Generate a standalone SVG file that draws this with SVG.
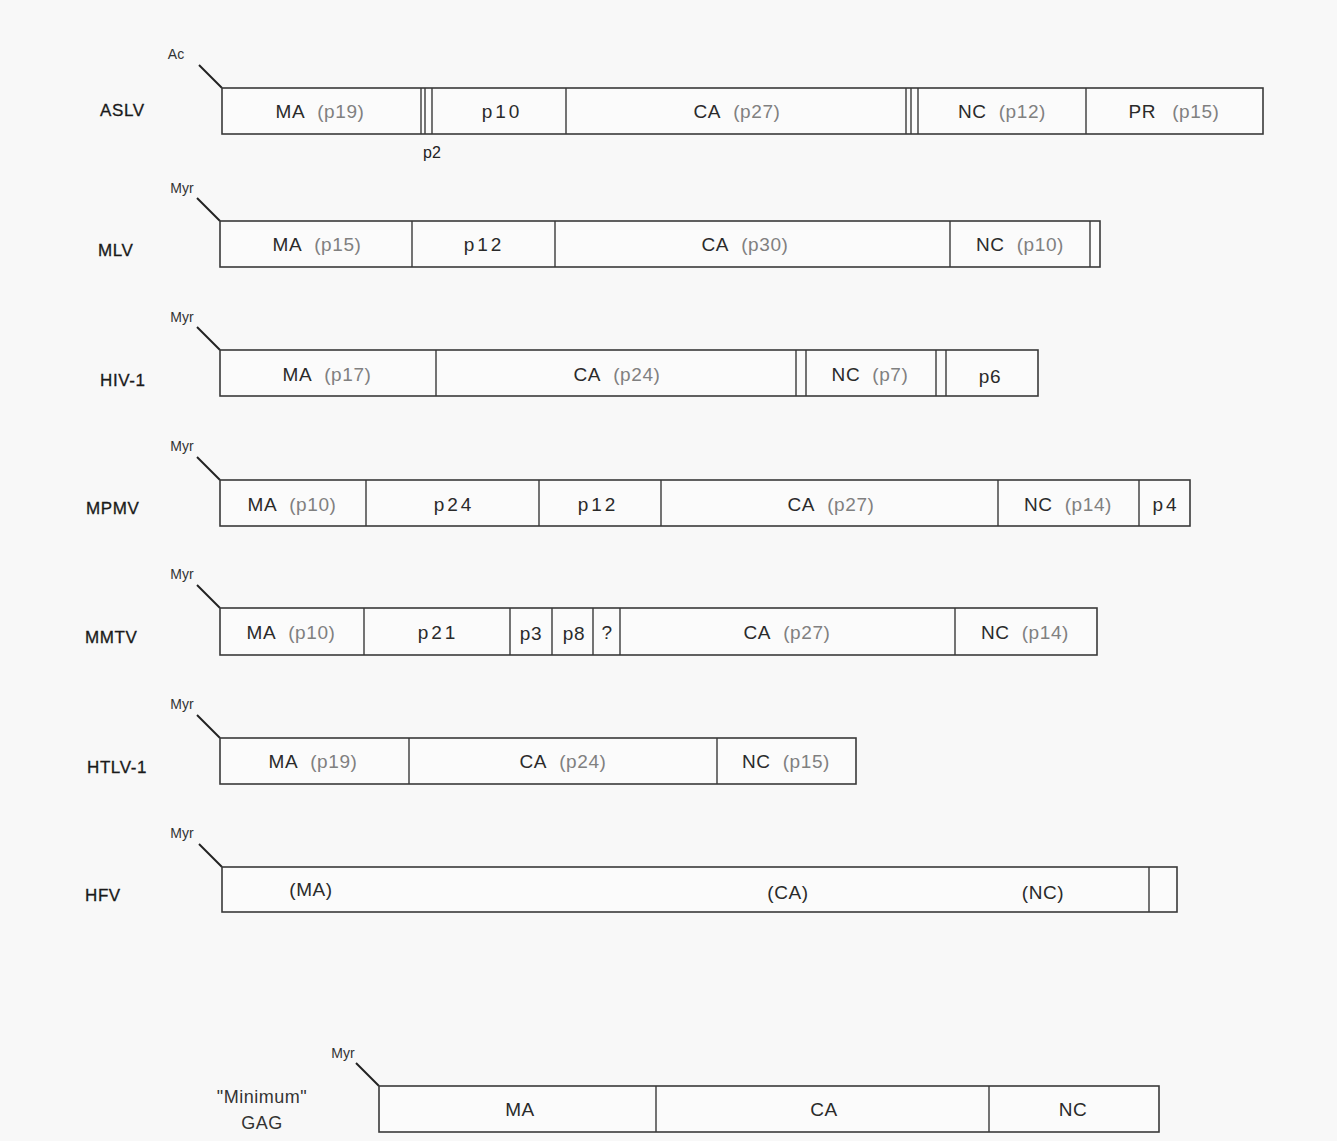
<svg xmlns="http://www.w3.org/2000/svg" width="1337" height="1141" viewBox="0 0 1337 1141">
<style>
.bg{fill:#f8f8f8}
.box{fill:#fbfbfb;stroke:#3a3a3a;stroke-width:1.6}
.div{stroke:#3a3a3a;stroke-width:1.4}
.tick{stroke:#222;stroke-width:2}
.lab{font-family:"Liberation Sans",Arial,sans-serif;font-size:19px;fill:#2a2a2a;text-anchor:middle;letter-spacing:0.6px}
.p{fill:#808080}
.w{letter-spacing:3px}
.name{font-family:"Liberation Sans",Arial,sans-serif;font-size:17px;fill:#1a1a1a;text-anchor:start;letter-spacing:0.6px;stroke:#1a1a1a;stroke-width:0.3}
.mod{font-family:"Liberation Sans",Arial,sans-serif;font-size:14px;fill:#333;text-anchor:middle}
.sm{font-family:"Liberation Sans",Arial,sans-serif;font-size:16px;fill:#222;text-anchor:middle}
.mg{font-family:"Liberation Sans",Arial,sans-serif;font-size:18px;fill:#333;text-anchor:middle;letter-spacing:0.5px}
</style>
<rect class="bg" x="0" y="0" width="1337" height="1141"/>

<g id="connectors">
<line class="tick" x1="199" y1="65" x2="222" y2="88"/>
<line class="tick" x1="197" y1="198" x2="220" y2="221"/>
<line class="tick" x1="197" y1="327" x2="220" y2="350"/>
<line class="tick" x1="197" y1="457" x2="220" y2="480"/>
<line class="tick" x1="197" y1="585" x2="220" y2="608"/>
<line class="tick" x1="197" y1="715" x2="220" y2="738"/>
<line class="tick" x1="199" y1="844" x2="222" y2="867"/>
<line class="tick" x1="356" y1="1063" x2="379" y2="1086"/>
</g>

<g id="ASLV">
<text class="name" x="100" y="116">ASLV</text>
<text class="mod" x="176" y="59">Ac</text>
<rect class="box" x="222" y="88" width="1041" height="46"/>
<line class="div" x1="421" y1="88" x2="421" y2="134"/>
<line class="div" x1="425" y1="88" x2="425" y2="134"/>
<line class="div" x1="432" y1="88" x2="432" y2="134"/>
<line class="div" x1="566" y1="88" x2="566" y2="134"/>
<line class="div" x1="906" y1="88" x2="906" y2="134"/>
<line class="div" x1="911" y1="88" x2="911" y2="134"/>
<line class="div" x1="918" y1="88" x2="918" y2="134"/>
<line class="div" x1="1086" y1="88" x2="1086" y2="134"/>
<text class="lab" x="320" y="118">MA<tspan class="p" dx="12">(p19)</tspan></text>
<text class="lab w" x="502" y="118">p10</text>
<text class="lab" x="737" y="118">CA<tspan class="p" dx="12">(p27)</tspan></text>
<text class="lab" x="1002" y="118">NC<tspan class="p" dx="12">(p12)</tspan></text>
<text class="lab" x="1174" y="118">PR<tspan class="p" dx="16">(p15)</tspan></text>
<text class="sm" x="432" y="158">p2</text>
</g>

<g id="MLV">
<text class="name" x="98" y="256">MLV</text>
<text class="mod" x="182" y="193">Myr</text>
<rect class="box" x="220" y="221" width="880" height="46"/>
<line class="div" x1="412" y1="221" x2="412" y2="267"/>
<line class="div" x1="555" y1="221" x2="555" y2="267"/>
<line class="div" x1="950" y1="221" x2="950" y2="267"/>
<line class="div" x1="1090" y1="221" x2="1090" y2="267"/>
<text class="lab" x="317" y="251">MA<tspan class="p" dx="12">(p15)</tspan></text>
<text class="lab w" x="484" y="251">p12</text>
<text class="lab" x="745" y="251">CA<tspan class="p" dx="12">(p30)</tspan></text>
<text class="lab" x="1020" y="251">NC<tspan class="p" dx="12">(p10)</tspan></text>
</g>

<g id="HIV-1">
<text class="name" x="100" y="386">HIV-1</text>
<text class="mod" x="182" y="322">Myr</text>
<rect class="box" x="220" y="350" width="818" height="46"/>
<line class="div" x1="436" y1="350" x2="436" y2="396"/>
<line class="div" x1="796" y1="350" x2="796" y2="396"/>
<line class="div" x1="806" y1="350" x2="806" y2="396"/>
<line class="div" x1="936" y1="350" x2="936" y2="396"/>
<line class="div" x1="946" y1="350" x2="946" y2="396"/>
<text class="lab" x="327" y="381">MA<tspan class="p" dx="12">(p17)</tspan></text>
<text class="lab" x="617" y="381">CA<tspan class="p" dx="12">(p24)</tspan></text>
<text class="lab" x="870" y="381">NC<tspan class="p" dx="12">(p7)</tspan></text>
<text class="lab" x="990" y="383" font-size="16">p6</text>
</g>

<g id="MPMV">
<text class="name" x="86" y="514">MPMV</text>
<text class="mod" x="182" y="451">Myr</text>
<rect class="box" x="220" y="480" width="970" height="46"/>
<line class="div" x1="366" y1="480" x2="366" y2="526"/>
<line class="div" x1="539" y1="480" x2="539" y2="526"/>
<line class="div" x1="661" y1="480" x2="661" y2="526"/>
<line class="div" x1="998" y1="480" x2="998" y2="526"/>
<line class="div" x1="1139" y1="480" x2="1139" y2="526"/>
<text class="lab" x="292" y="511">MA<tspan class="p" dx="12">(p10)</tspan></text>
<text class="lab w" x="454" y="511">p24</text>
<text class="lab w" x="598" y="511">p12</text>
<text class="lab" x="831" y="511">CA<tspan class="p" dx="12">(p27)</tspan></text>
<text class="lab" x="1068" y="511">NC<tspan class="p" dx="12">(p14)</tspan></text>
<text class="lab w" x="1166" y="511">p4</text>
</g>

<g id="MMTV">
<text class="name" x="85" y="643">MMTV</text>
<text class="mod" x="182" y="579">Myr</text>
<rect class="box" x="220" y="608" width="877" height="47"/>
<line class="div" x1="364" y1="608" x2="364" y2="655"/>
<line class="div" x1="510" y1="608" x2="510" y2="655"/>
<line class="div" x1="552" y1="608" x2="552" y2="655"/>
<line class="div" x1="593" y1="608" x2="593" y2="655"/>
<line class="div" x1="620" y1="608" x2="620" y2="655"/>
<line class="div" x1="955" y1="608" x2="955" y2="655"/>
<text class="lab" x="291" y="639">MA<tspan class="p" dx="12">(p10)</tspan></text>
<text class="lab w" x="438" y="639">p21</text>
<text class="lab" x="531" y="640" font-size="16">p3</text>
<text class="lab" x="574" y="640" font-size="16">p8</text>
<text class="lab" x="607" y="639" font-size="15">?</text>
<text class="lab" x="787" y="639">CA<tspan class="p" dx="12">(p27)</tspan></text>
<text class="lab" x="1025" y="639">NC<tspan class="p" dx="12">(p14)</tspan></text>
</g>

<g id="HTLV-1">
<text class="name" x="87" y="773">HTLV-1</text>
<text class="mod" x="182" y="709">Myr</text>
<rect class="box" x="220" y="738" width="636" height="46"/>
<line class="div" x1="409" y1="738" x2="409" y2="784"/>
<line class="div" x1="717" y1="738" x2="717" y2="784"/>
<text class="lab" x="313" y="768">MA<tspan class="p" dx="12">(p19)</tspan></text>
<text class="lab" x="563" y="768">CA<tspan class="p" dx="12">(p24)</tspan></text>
<text class="lab" x="786" y="768">NC<tspan class="p" dx="12">(p15)</tspan></text>
</g>

<g id="HFV">
<text class="name" x="85" y="901">HFV</text>
<text class="mod" x="182" y="838">Myr</text>
<rect class="box" x="222" y="867" width="955" height="45"/>
<line class="div" x1="1149" y1="867" x2="1149" y2="912"/>
<text class="lab" x="311" y="896" font-size="18">(MA)</text>
<text class="lab" x="788" y="899" font-size="17">(CA)</text>
<text class="lab" x="1043" y="899" font-size="17">(NC)</text>
</g>

<g id="MinimumGAG">
<text class="mg" x="262" y="1103">"Minimum"</text>
<text class="mg" x="262" y="1129">GAG</text>
<text class="mod" x="343" y="1058">Myr</text>
<rect class="box" x="379" y="1086" width="780" height="46"/>
<line class="div" x1="656" y1="1086" x2="656" y2="1132"/>
<line class="div" x1="989" y1="1086" x2="989" y2="1132"/>
<text class="lab" x="520" y="1116" font-size="17">MA</text>
<text class="lab" x="824" y="1116" font-size="17">CA</text>
<text class="lab" x="1073" y="1116" font-size="17">NC</text>
</g>
</svg>
